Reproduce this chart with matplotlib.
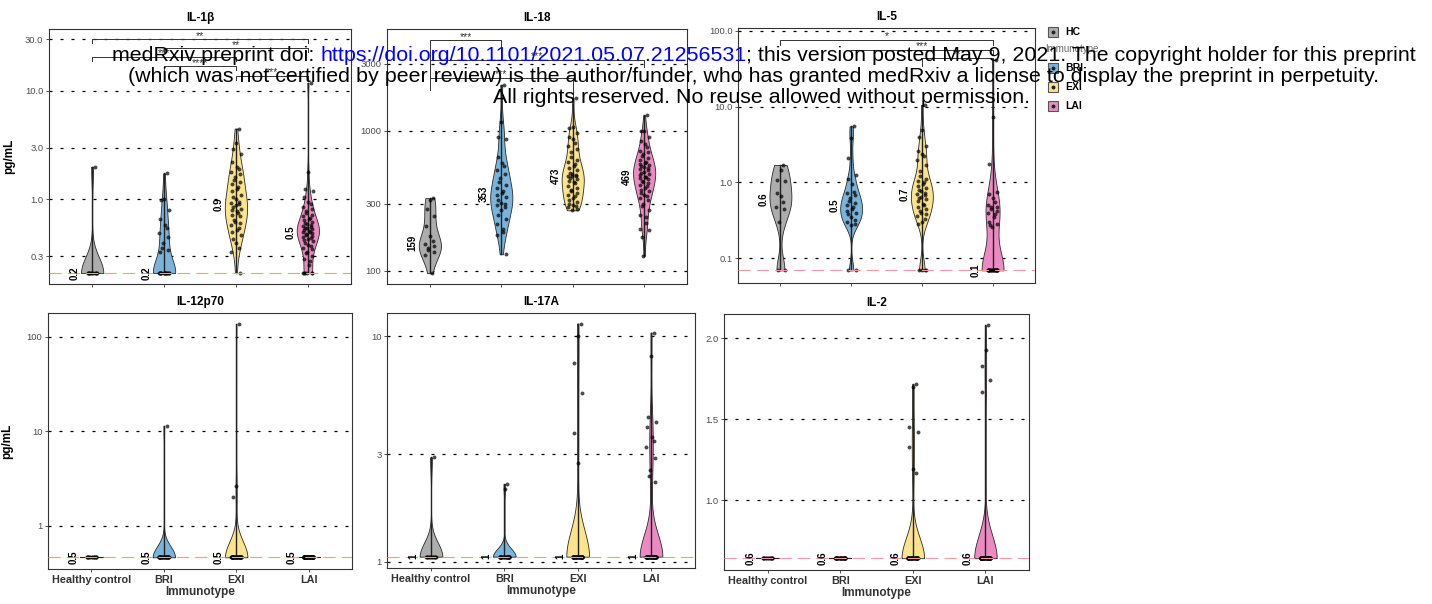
import numpy as np
import matplotlib.pyplot as plt
from matplotlib.patches import Rectangle
from matplotlib.lines import Line2D
from matplotlib.ticker import NullLocator

plt.rcParams['font.family'] = ['Liberation Sans', 'DejaVu Sans']

W, H = 1432, 604

groups = ['Healthy control', 'BRI', 'EXI', 'LAI']
legend_labels = ['HC', 'BRI', 'EXI', 'LAI']
colors = ['#ADADAD', '#7BB4DB', '#FCE38D', '#EC8BC2']

# ---- IL-1b (pg/mL) ----
il1b_lod = 0.21
il1b_hc = [2.0] + [0.21] * 12
il1b_bri = [1.74, 1.0, 0.98, 0.80, 0.66, 0.58, 0.55, 0.49, 0.45, 0.40, 0.36, 0.34, 0.33] + [0.21] * 16
il1b_exi = [4.5, 3.3, 2.9, 2.6, 2.2, 2.0, 1.9, 1.8, 1.7, 1.6, 1.5, 1.45, 1.4, 1.3, 1.25, 1.2, 1.1,
            1.05, 1.0, 0.95, 0.92, 0.9, 0.88, 0.85, 0.82, 0.8, 0.78, 0.75, 0.72, 0.7, 0.65, 0.62,
            0.6, 0.58, 0.55, 0.52, 0.5, 0.47, 0.43, 0.4, 0.36, 0.33, 0.21]
il1b_lai = [11.9, 1.8, 1.25, 1.2, 1.05, 0.95, 0.9, 0.85, 0.82, 0.78, 0.75, 0.72, 0.7, 0.68, 0.66,
            0.64, 0.62, 0.6, 0.59, 0.58, 0.57, 0.56, 0.55, 0.54, 0.53, 0.52, 0.51, 0.5, 0.5, 0.49,
            0.48, 0.47, 0.46, 0.45, 0.44, 0.43, 0.42, 0.41, 0.4, 0.38, 0.37, 0.36, 0.35, 0.33, 0.32,
            0.3, 0.28, 0.27, 0.25] + [0.21] * 6
il1b_sig = [(0, 3, '**', 30.0, 27.5, 27.5), (1, 3, '**', 24.8, 22.8, 22.8),
            (0, 2, '***', 20.5, 18.8, 18.8), (1, 2, '****', 16.9, 15.5, 15.5),
            (2, 3, '***', 13.7, 12.6, 12.6)]

# ---- IL-18 ----
il18_hc = [330, 320, 275, 245, 210, 178, 162, 156, 150, 146, 141, 136, 130, 96]
il18_bri = [2130, 1150, 900, 880, 650, 590, 560, 520, 490, 460, 430, 410, 390, 370, 360, 346, 335,
            320, 305, 300, 295, 285, 270, 250, 235, 215, 200, 190, 180, 131]
il18_exi = [1700, 1060, 1050, 960, 900, 870, 820, 780, 740, 700, 650, 620, 600, 580, 560, 540, 520,
            500, 490, 480, 476, 474, 472, 460, 450, 440, 430, 420, 400, 390, 380, 370, 360, 350,
            340, 330, 320, 310, 300, 295, 290, 285, 278, 270]
il18_lai = [1290, 1000, 990, 900, 850, 800, 760, 720, 700, 680, 660, 640, 620, 600, 590, 580, 570,
            560, 550, 540, 530, 520, 510, 500, 490, 480, 469, 465, 460, 450, 440, 430, 420, 410,
            400, 390, 380, 370, 360, 350, 340, 330, 320, 300, 290, 270, 250, 240, 220, 200, 195,
            175, 128]
il18_sig = [(0, 1, '***', 4430, 1965, 4010), (0, 3, '***', 3220, 2870, 2870),
            (0, 2, '***', 2395, 2170, 1585)]

# ---- IL-5 ----
il5_lod = 0.069
il5_hc = [1.7, 1.45, 1.08, 1.05, 0.72, 0.66, 0.55, 0.47, 0.44, 0.3, 0.069, 0.069]
il5_bri = [5.5, 3.9, 2.1, 1.25, 1.1, 0.95, 0.75, 0.72, 0.68, 0.62, 0.57, 0.53, 0.5, 0.47, 0.45,
           0.42, 0.4, 0.38, 0.35, 0.32, 0.3, 0.28, 0.27, 0.069, 0.069]
il5_exi = [10.5, 4.9, 4.0, 3.0, 2.6, 2.4, 2.2, 2.0, 1.7, 1.4, 1.2, 1.1, 1.05, 1.0, 0.95, 0.9, 0.85,
           0.8, 0.76, 0.72, 0.7, 0.68, 0.65, 0.62, 0.6, 0.56, 0.52, 0.5, 0.48, 0.45, 0.42, 0.4,
           0.38, 0.36, 0.33, 0.3, 0.28, 0.069, 0.069, 0.069, 0.069]
il5_lai = [41, 7.3, 1.75, 0.75, 0.7, 0.62, 0.55, 0.5, 0.48, 0.47, 0.45, 0.42, 0.4, 0.38, 0.35,
           0.3, 0.28, 0.27, 0.26] + [0.069] * 22
il5_sig = [(0, 3, '*', 76.3, 65.6, 65.6), (1, 3, '***', 56.3, 48.4, 48.4),
           (2, 3, '**', 44.2, 33.9, 37.9)]

# ---- IL-12p70 ----
il12_lod = 0.463
il12_hc = [0.463] * 14
il12_bri = [11.4] + [0.463] * 29
il12_exi = [135, 2.63, 2.03] + [0.463] * 41
il12_lai = [0.463] * 56

# ---- IL-17A ----
il17_lod = 1.052
il17_hc = [2.9] + [1.052] * 13
il17_bri = [2.21, 2.1] + [1.052] * 28
il17_exi = [11.4, 10.0, 7.6, 5.6, 3.72, 2.74] + [1.052] * 38
il17_lai = [10.4, 8.2, 4.38, 4.17, 3.98, 3.59, 3.43, 3.24, 2.89, 2.56, 2.39, 2.26] + [1.052] * 44

# ---- IL-2 (linear axis) ----
il2_lod = 0.641
il2_hc = [0.641] * 14
il2_bri = [0.641] * 30
il2_exi = [1.717, 1.697, 1.453, 1.418, 1.33, 1.19, 1.165] + [0.641] * 37
il2_lai = [2.08, 1.93, 1.83, 1.74, 1.668] + [0.641] * 51

HW = 0.155  # violin half width


def nrd0(x):
    hi = np.std(x, ddof=1)
    q75, q25 = np.percentile(x, [75, 25])
    lo = min(hi, (q75 - q25) / 1.34)
    if lo == 0:
        lo = hi or abs(x[0]) or 1
    return 0.9 * lo * len(x) ** -0.2


fig = plt.figure(figsize=(W / 100, H / 100), dpi=100)


def add_ax(x0, y0, x1, y1):
    return fig.add_axes([x0 / W, 1 - y1 / H, (x1 - x0) / W, (y1 - y0) / H])


def draw_panel(ax, data, lod, log, ylim, ticks, ticklabels, dec, title, sig=(), bottom=False, ylabel=False):
    if log:
        ax.set_yscale('log')
    for i, vals in enumerate(data):
        vals = np.asarray(vals, float)
        t = np.log10(vals) if log else vals
        if np.ptp(t) == 0:
            ax.plot([i - HW, i + HW], [vals[0], vals[0]], color='#222222', lw=0.8, zorder=2)
        else:
            bw = nrd0(t)
            g = np.linspace(t.min(), t.max(), 400)
            d = np.exp(-0.5 * ((g[:, None] - t[None, :]) / bw) ** 2).sum(1)
            d = d / d.max() * HW
            yy = 10 ** g if log else g
            ax.fill_betweenx(yy, i - d, i + d, facecolor=colors[i], edgecolor='#2b2b2b', lw=0.6, zorder=2)
        ax.plot([i, i], [vals.min(), vals.max()], color='#222222', lw=1.0, zorder=3)
        jit = 0.065 * np.sin(np.arange(len(vals)) * 2.39996 + 0.7)
        ax.scatter(i + jit, vals, s=8, color='black', alpha=0.7, lw=0, zorder=4)
        med = np.median(vals)
        ax.text(i - 0.24, med, f'{med:.{dec}f}', rotation=90, ha='center', va='center',
                fontsize=7, fontweight='bold', color='black', zorder=6)
    if lod is not None:
        ax.axhline(lod, color='#F29999', lw=0.8, dashes=(11, 5.5), zorder=5)
    for g1, g2, lab, y, t1, t2 in sig:
        ax.plot([g1, g1, g2, g2], [t1, y, y, t2], color='#333333', lw=0.7, zorder=5)
        ax.annotate(lab, ((g1 + g2) / 2, y), xytext=(0, 2.6), textcoords='offset points',
                    ha='center', va='center', fontsize=7.5, color='#333333', zorder=6)
    ax.set_xlim(-0.6, 3.6)
    ax.set_ylim(*ylim)
    ax.set_yticks(ticks)
    ax.set_yticklabels(ticklabels)
    ax.yaxis.set_minor_locator(NullLocator())
    ax.grid(axis='y', color='black', lw=0.9, linestyle=(0, (2.4, 6.4)), zorder=1)
    ax.set_axisbelow(True)
    ax.set_xticks(range(4))
    if bottom:
        ax.set_xticklabels(groups, fontsize=7.8, fontweight='bold', color='#333333')
        ax.set_xlabel('Immunotype', fontsize=8.5, fontweight='bold', color='#333333', labelpad=1)
    else:
        ax.set_xticklabels([])
    ax.tick_params(axis='both', length=2.5, width=0.6, color='#333333', pad=1.5)
    ax.tick_params(axis='y', labelsize=6.8, labelcolor='#4d4d4d')
    for s in ax.spines.values():
        s.set_color('#333333')
        s.set_linewidth(0.8)
    ax.set_title(title, fontsize=8.5, fontweight='bold', pad=5.5)
    if ylabel:
        ax.set_ylabel('pg/mL', fontsize=8.5, fontweight='bold')
        ax.yaxis.set_label_coords(-0.113, 0.5)


ax1 = add_ax(49, 29, 351, 284)
draw_panel(ax1, [il1b_hc, il1b_bri, il1b_exi, il1b_lai], il1b_lod, True, (0.166, 37.3),
           [0.3, 1, 3, 10, 30], ['0.3', '1.0', '3.0', '10.0', '30.0'], 1, 'IL-1β', il1b_sig, ylabel=True)

ax2 = add_ax(387, 29, 687, 284)
draw_panel(ax2, [il18_hc, il18_bri, il18_exi, il18_lai], None, True, (80.3, 5335),
           [100, 300, 1000, 3000], ['100', '300', '1000', '3000'], 0, 'IL-18', il18_sig)

ax3 = add_ax(738, 28, 1035, 283)
draw_panel(ax3, [il5_hc, il5_bri, il5_exi, il5_lai], il5_lod, True, (0.047, 109),
           [0.1, 1, 10, 100], ['0.1', '1.0', '10.0', '100.0'], 1, 'IL-5', il5_sig)

ax4 = add_ax(48, 313, 352, 569)
draw_panel(ax4, [il12_hc, il12_bri, il12_exi, il12_lai], il12_lod, True, (0.348, 178),
           [1, 10, 100], ['1', '10', '100'], 1, 'IL-12p70', bottom=True, ylabel=True)

ax5 = add_ax(387, 313, 695, 568)
draw_panel(ax5, [il17_hc, il17_bri, il17_exi, il17_lai], il17_lod, True, (0.937, 12.7),
           [1, 3, 10], ['1', '3', '10'], 0, 'IL-17A', bottom=True)

ax6 = add_ax(724, 314, 1029, 570)
draw_panel(ax6, [il2_hc, il2_bri, il2_exi, il2_lai], il2_lod, False, (0.568, 2.15),
           [1.0, 1.5, 2.0], ['1.0', '1.5', '2.0'], 1, 'IL-2', bottom=True)

# legend (drawn by hand to keep the odd ordering)
leg_y = [31.7, 67.7, 86.7, 105.7]
for lab, col, y in zip(legend_labels, colors, leg_y):
    fig.add_artist(Rectangle((1048 / W, 1 - (y + 5) / H), 10 / W, 10 / H, transform=fig.transFigure,
                             facecolor=col, edgecolor='#555555', lw=0.8))
    fig.add_artist(Line2D([1053 / W], [1 - y / H], transform=fig.transFigure, marker='o',
                          markersize=1.8, color='#222222', lw=0))
    fig.text(1065 / W, 1 - y / H, lab, fontsize=7.5, fontweight='bold', va='center', ha='left')
fig.text(1045 / W, 1 - 49 / H, 'Immunotype', fontsize=7, color='#666666', va='center', ha='left')

# medRxiv header
renderer = fig.canvas.get_renderer()
fs = 15.4


def twidth(s):
    t = fig.text(0, 0, s, fontsize=fs)
    w = t.get_window_extent(renderer).width
    t.remove()
    return w


line1 = ['medRxiv preprint doi: ', 'https://doi.org/10.1101/2021.05.07.21256531',
         '; this version posted May 9, 2021. The copyright holder for this preprint']
line1_colors = ['black', '#0000FF', 'black']
wx = twidth('x')
total = twidth(''.join(line1))
x = 764 - total / 2
acc = ''
for part, c in zip(line1, line1_colors):
    fig.text(x / W, 1 - 61 / H, part, fontsize=fs, color=c, ha='left', va='baseline')
    acc += part
    x = 764 - total / 2 + twidth(acc + 'x') - wx

fig.text(753 / W, 1 - 82 / H,
         '(which was not certified by peer review) is the author/funder, who has granted medRxiv a license to display the preprint in perpetuity.',
         fontsize=fs, ha='center', va='baseline')
fig.text(762 / W, 1 - 103 / H, 'All rights reserved. No reuse allowed without permission.',
         fontsize=fs, ha='center', va='baseline')

fig.savefig('out.png', dpi=100)
